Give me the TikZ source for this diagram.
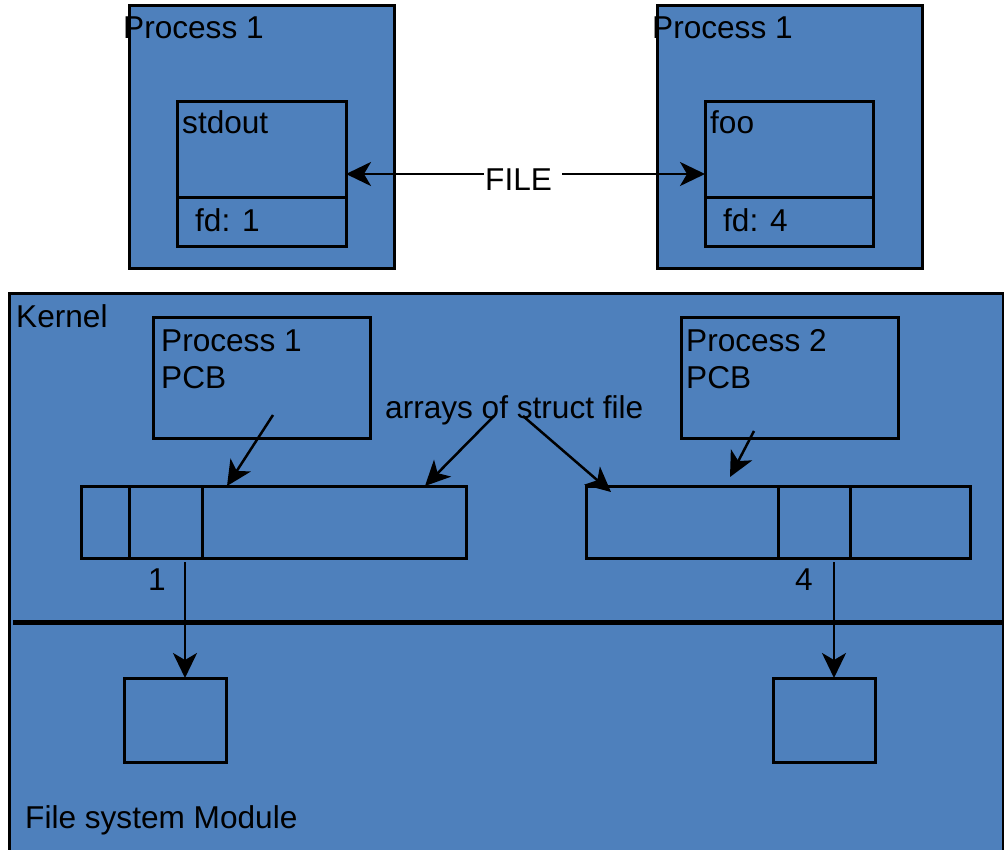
\documentclass[tikz,border=0pt]{standalone}
\usepackage{fontspec}
\setmainfont{Liberation Sans}
\usetikzlibrary{arrows.meta}
\definecolor{boxblue}{HTML}{4E80BC}
\tikzset{
	box/.style={draw, line width=3pt, fill=boxblue, inner sep=0pt, outer sep=0pt, anchor=north west},
	txt/.style={anchor=base west, inner sep=0pt, font=\fontsize{31.6}{37}\selectfont},
	arr/.style={line width=2.5pt, -{Stealth[length=25pt, width=24pt, inset=7pt]}}
}

\begin{document}
\begin{tikzpicture}[x=1pt, y=-1pt]
			\useasboundingbox (0,0) rectangle (1004,850);
			\clip (0,0) rectangle (1004,850);
			% user space
			\node [box, minimum width=265pt, minimum height=263pt] (procA) at (129,6) {};
			\node [box, minimum width=265pt, minimum height=263pt] (procB) at (657,6) {};
			\node [txt] (procAname) at (123,39) {Process 1};
			\node [txt] (procBname) at (652,39) {Process 1};
			\node [box, minimum width=169pt, minimum height=96pt] (fileA) at (177,102) {};
			\node [box, minimum width=169pt, minimum height=49pt] (fdA) at (177,198) {};
			\node [box, minimum width=168pt, minimum height=96pt] (fileB) at (705,102) {};
			\node [box, minimum width=168pt, minimum height=49pt] (fdB) at (705,198) {};
			\node [txt] (fileAname) at (182,134) {stdout};
			\node [txt] (fdAname) at (195,232) {fd: 1};
			\node [txt] (fileBname) at (710,134) {foo};
			\node [txt] (fdBname) at (723,232) {fd: 4};
			\node [txt] (file) at (485,191) {FILE};
			\coordinate (fileL) at (484,174);
			\coordinate (fileR) at (562,174);
				\draw [arr] (fileL) -- (fileL -| fileA.east);
				\draw [arr] (fileR) -- (fileR -| fileB.west);
			% kernel
			\node [box, minimum width=994pt, minimum height=600pt] (kernel) at (9,294) {};
			\node [txt] (kernelname) at (16,327) {Kernel};
			\node [box, minimum width=217pt, minimum height=120pt] (pcbA) at (153,318) {};
			\node [box, minimum width=217pt, minimum height=120pt] (pcbB) at (681,318) {};
			\node [txt] (pcbAname) at (161,351) {Process 1};
			\node [txt] (pcbAtype) at (161,388) {PCB};
			\node [txt] (pcbBname) at (686,351) {Process 2};
			\node [txt] (pcbBtype) at (686,388) {PCB};
			\node [txt] (arrays) at (385,418) {arrays of struct file};
			\node [box, minimum width=48pt, minimum height=72pt] (cellAa) at (81,486) {};
			\node [box, minimum width=73pt, minimum height=72pt] (cellAb) at (129,486) {};
			\node [box, minimum width=264pt, minimum height=72pt] (cellAc) at (202,486) {};
			\node [box, minimum width=192pt, minimum height=72pt] (cellBa) at (586,486) {};
			\node [box, minimum width=72pt, minimum height=72pt] (cellBb) at (778,486) {};
			\node [box, minimum width=120pt, minimum height=72pt] (cellBc) at (850,486) {};
			\coordinate (pcbAout) at (273,415);
			\coordinate (pcbAin) at (227,486);
			\coordinate (pcbBout) at (754,431);
			\coordinate (pcbBin) at (730,477);
			\coordinate (arraysL) at (494,416);
			\coordinate (arraysLin) at (425,486);
			\coordinate (arraysR) at (523,416);
			\coordinate (arraysRin) at (611,492);
				\draw [arr] (pcbAout) -- (pcbAin);
				\draw [arr] (pcbBout) -- (pcbBin);
				\draw [arr] (arraysL) -- (arraysLin);
				\draw [arr] (arraysR) -- (arraysRin);
			\draw [line width=5pt] (13,622) -- (1004,622);
			% file system module
			\node [box, minimum width=102pt, minimum height=84pt] (fsA) at (124,678) {};
			\node [box, minimum width=102pt, minimum height=84pt] (fsB) at (773,678) {};
			\node [txt] (idxAname) at (148,590) {1};
			\node [txt] (idxBname) at (795,590) {4};
			\coordinate (idxA) at (185,562);
			\coordinate (idxB) at (834,562);
				\draw [arr] (idxA) -- (idxA |- fsA.north);
				\draw [arr] (idxB) -- (idxB |- fsB.north);
			\node [txt] (fsname) at (25,828) {File system Module};
		\end{tikzpicture}
\end{document}
